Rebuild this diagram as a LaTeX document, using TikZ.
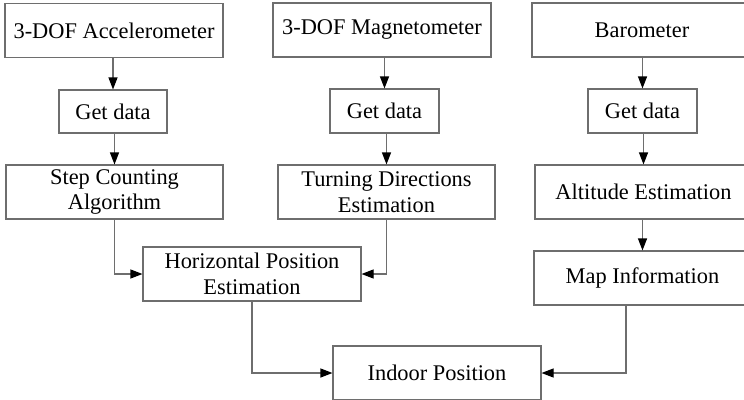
\documentclass[tikz,border=0pt]{standalone}
\usepackage{fontspec}
\setmainfont{Liberation Serif}
\usetikzlibrary{arrows.meta}
\definecolor{edgegray}{RGB}{110,110,110}
\begin{document}
\begin{tikzpicture}[x=1pt,y=-1pt,
  box/.style={draw=edgegray,line width=1.1pt,fill=white,inner sep=0pt,
    minimum width=218pt,minimum height=54pt,align=center,
    font=\fontsize{22.4}{25.5}\selectfont},
  small/.style={box,minimum width=109pt,minimum height=44pt},
  flow/.style={draw=edgegray,line width=1.1pt,
    -{Triangle[length=12pt,width=9pt,fill=black,color=black]}}]
\useasboundingbox (0,0) rectangle (744,399);
\clip (0,0) rectangle (744,399);

% sensors
\node[box] (acc) at (114,30.5) {3-DOF Accelerometer};
\node[box] (mag) at (382,30) {3-DOF Magnetometer};
\node[box,minimum width=220pt] (bar) at (642,30) {Barometer};

% data acquisition
\node[small,minimum width=108pt,minimum height=43pt] (gd1) at (113,111.5) {Get data};
\node[small] (gd2) at (384.5,111) {Get data};
\node[small] (gd3) at (642.5,111) {Get data};

% processing
\node[box,minimum width=217pt] (step) at (114.5,192) {Step Counting\\Algorithm};
\node[box,minimum width=217pt] (turn) at (386.5,192) {Turning Directions\\Estimation};
\node[box,minimum width=217pt] (alt) at (643.5,192) {Altitude Estimation};
\node[box] (horiz) at (252,274) {Horizontal Position\\Estimation};
\node[box,minimum width=217pt] (map) at (642.5,278) {Map Information};
\node[box,minimum width=208pt] (indoor) at (437,373) {Indoor Position};

% connectors
\draw[flow] (acc.south -| gd1.north) -- (gd1.north);
\draw[flow] (mag.south -| gd2.north) -- (gd2.north);
\draw[flow] (bar.south -| gd3.north) -- (gd3.north);
\draw[flow] (gd1.south -| step.north) -- (step.north);
\draw[flow] (gd2.south -| turn.north) -- (turn.north);
\draw[flow] (gd3.south -| alt.north) -- (alt.north);
\draw[flow] (alt.south -| gd3.south) -- (map.north -| gd3.south);
\draw[flow] (step.south) |- (horiz.west);
\draw[flow] (turn.south) |- (horiz.east);
\draw[flow] (horiz.south) |- (indoor.west);
\coordinate (mapout) at ([xshift=-16.5pt]map.south);
\draw[flow] (mapout) |- (indoor.east);
\end{tikzpicture}
\end{document}
